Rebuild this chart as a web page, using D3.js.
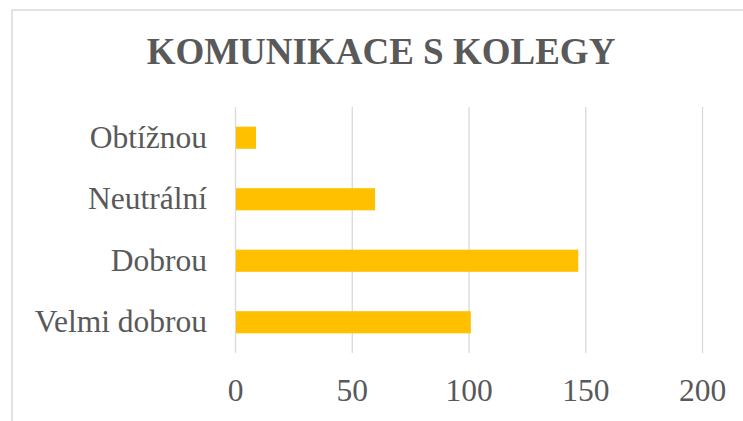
<!DOCTYPE html>
<html>
<head>
<meta charset="utf-8">
<script src="https://cdn.jsdelivr.net/npm/d3@7"></script>
<style>
  body { margin: 0; background: #fff; }
  svg { display: block; }
  text { font-family: "Liberation Serif", "Times New Roman", serif; fill: #595959; }
</style>
</head>
<body>
<div id="chart"></div>
<script>
// categories top to bottom as shown
var categories = ["Obtížnou", "Neutrální", "Dobrou", "Velmi dobrou"];
var counts = [9, 60, 147, 101];
var xTicks = [0, 50, 100, 150, 200];
var title = "KOMUNIKACE S KOLEGY";

var w = 743, h = 421;
var plotLeft = 235, plotRight = 702, plotTop = 107, plotBottom = 353;

var svg = d3.select("#chart").append("svg")
  .attr("width", w)
  .attr("height", h);

// chart border (cut off at right and bottom)
svg.append("rect")
  .attr("x", 12).attr("y", 10)
  .attr("width", w + 20).attr("height", h + 20)
  .attr("fill", "none")
  .attr("stroke", "#d9d9d9")
  .attr("stroke-width", 1.5);

svg.append("text")
  .attr("x", 381)
  .attr("y", 64)
  .attr("text-anchor", "middle")
  .style("font-size", "37px")
  .style("font-weight", "bold")
  .text(title);

var xScale = d3.scaleLinear().domain([0, 200]).range([plotLeft, plotRight]);
var yScale = d3.scaleBand().domain(categories).range([plotTop, plotBottom])
  .paddingInner(0.64).paddingOuter(0.32);

// gridlines
var grid = svg.append("g")
  .attr("transform", "translate(0," + plotBottom + ")")
  .call(d3.axisBottom(xScale).tickValues(xTicks).tickSize(-(plotBottom - plotTop)).tickFormat(""));
grid.select(".domain").remove();
grid.selectAll("line").attr("stroke", "#d9d9d9").attr("stroke-width", 1.3);

// x labels
var xAxis = svg.append("g")
  .attr("transform", "translate(0," + plotBottom + ")")
  .call(d3.axisBottom(xScale).tickValues(xTicks).tickSize(0).tickPadding(26));
xAxis.select(".domain").remove();
xAxis.selectAll("text")
  .style("font-size", "31.5px")
  .style("font-family", "'Liberation Serif', 'Times New Roman', serif")
  .attr("fill", "#595959");

// bars
svg.selectAll("rect.bar")
  .data(categories)
  .enter()
  .append("rect")
  .attr("class", "bar")
  .attr("x", xScale(0) + 1)
  .attr("y", function(d) { return yScale(d); })
  .attr("width", function(d, i) { return xScale(counts[i]) - xScale(0) - 1; })
  .attr("height", yScale.bandwidth())
  .attr("fill", "#ffc000");

// y labels
var yAxis = svg.append("g")
  .attr("transform", "translate(" + plotLeft + ",0)")
  .call(d3.axisLeft(yScale).tickSize(0).tickPadding(28));
yAxis.select(".domain").remove();
yAxis.selectAll("text")
  .style("font-size", "31.5px")
  .style("font-family", "'Liberation Serif', 'Times New Roman', serif")
  .attr("fill", "#595959")
  .attr("dy", "0.32em");
</script>
</body>
</html>
